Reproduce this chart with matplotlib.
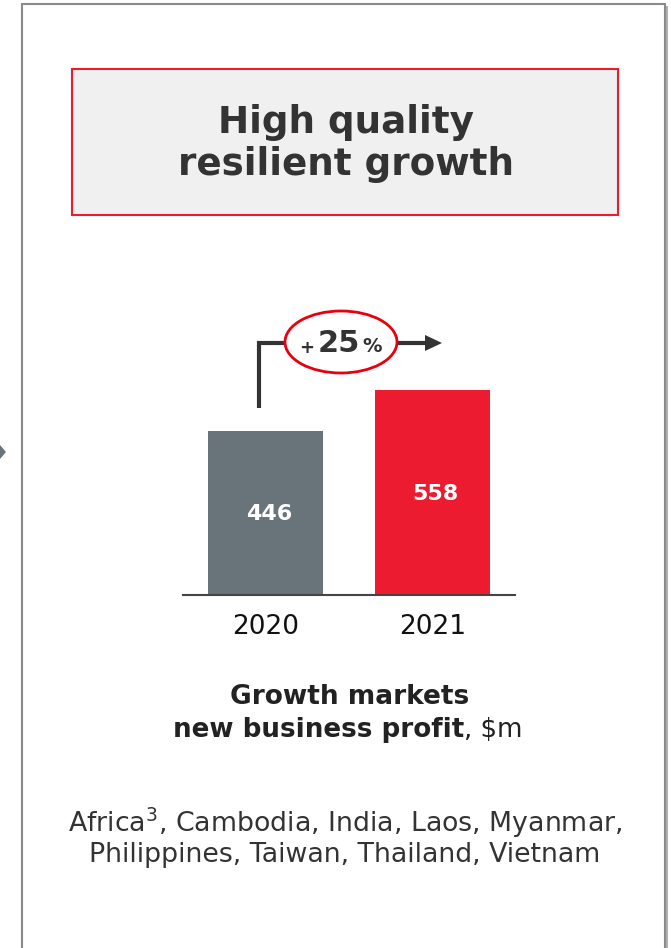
import matplotlib
matplotlib.use("Agg")
import matplotlib.pyplot as plt
from matplotlib.patches import Rectangle, Ellipse, Polygon

years = ["2020", "2021"]
values = [446, 558]
bar_colors = ["#68737a", "#ed1b2f"]
growth_label = "25"
title_lines = ["High quality", "resilient growth"]
countries = ["Africa$^{3}$, Cambodia, India, Laos, Myanmar,",
             "Philippines, Taiwan, Thailand, Vietnam"]

W, H = 671, 948
fig = plt.figure(figsize=(W / 100, H / 100), dpi=100)
fig.patch.set_facecolor("white")

# overlay axes in pixel coords
ov = fig.add_axes([0, 0, 1, 1])
ov.set_xlim(0, W)
ov.set_ylim(H, 0)
ov.axis("off")

# outer panel with shadow
ov.add_patch(Rectangle((25, 6), 643, 960, facecolor="#b0b0b0", edgecolor="none", zorder=0))
ov.add_patch(Rectangle((22, 4), 643, 960, facecolor="white", edgecolor="#8a8a8a", lw=1.5, zorder=1))
# small left arrow
ov.add_patch(Polygon([[0, 445], [6, 452], [0, 459]], closed=True, facecolor="#68737a", edgecolor="none", zorder=2))

# title box
ov.add_patch(Rectangle((72, 69), 546, 146, facecolor="#f0f0f0", edgecolor="#ed1b2f", lw=1.5, zorder=2))
ov.text(346, 122, title_lines[0], ha="center", va="center", fontsize=26.8, fontweight="bold", color="#333333", zorder=3)
ov.text(346, 164, title_lines[1], ha="center", va="center", fontsize=26.8, fontweight="bold", color="#333333", zorder=3)

# bar axes
bax = fig.add_axes([183 / W, 1 - 595 / H, 332 / W, 295 / H])
ymax = 295 / (164 / 446)
xs = list(range(len(years)))
bax.bar(xs, values, width=0.689, color=bar_colors, zorder=2)
bax.set_xlim(-0.494, 1.494)
bax.set_ylim(0, ymax)
bax.set_facecolor("none")
for s in ["top", "right", "left"]:
    bax.spines[s].set_visible(False)
bax.spines["bottom"].set_color("#444444")
bax.spines["bottom"].set_linewidth(1.5)
bax.set_yticks([])
bax.set_xticks(xs)
bax.set_xticklabels(years, fontsize=19, color="#111111")
bax.tick_params(axis="x", length=0, pad=14)
for x, v in zip(xs, values):
    bax.text(x + 0.02, v * 0.5 - 4, str(v), ha="center", va="center", color="white",
             fontsize=16, fontweight="bold", zorder=3)

# growth arrow
ov.plot([259, 259, 290], [408, 343, 343], color="#333333", lw=3, solid_capstyle="butt", solid_joinstyle="miter", zorder=3)
ov.plot([394, 427], [343, 343], color="#333333", lw=3, solid_capstyle="butt", zorder=3)
ov.add_patch(Polygon([[425, 335], [442, 343], [425, 351]], closed=True, facecolor="#333333", edgecolor="none", zorder=3))
ov.add_patch(Ellipse((341, 342), 112, 62, facecolor="white", edgecolor="#e8000d", lw=2, zorder=4))
ov.text(307, 348, "+", ha="center", va="center", fontsize=13, fontweight="bold", color="#333333", zorder=5)
ov.text(339, 344, growth_label, ha="center", va="center", fontsize=22, fontweight="bold", color="#333333", zorder=5)
ov.text(372, 347, "%", ha="center", va="center", fontsize=14, fontweight="bold", color="#333333", zorder=5)

# caption
ov.text(350, 697, "Growth markets", ha="center", va="center", fontsize=19, fontweight="bold", color="#222222")
ov.text(464, 730, "new business profit", ha="right", va="center", fontsize=18.8, fontweight="bold", color="#222222")
ov.text(464, 730, ", $m", ha="left", va="center", fontsize=18.8, color="#222222")

ov.text(345, 823, countries[0], ha="center", va="center", fontsize=19.3, color="#333333")
ov.text(345, 855, countries[1], ha="center", va="center", fontsize=19.3, color="#333333")

fig.savefig("out.png", dpi=100)
